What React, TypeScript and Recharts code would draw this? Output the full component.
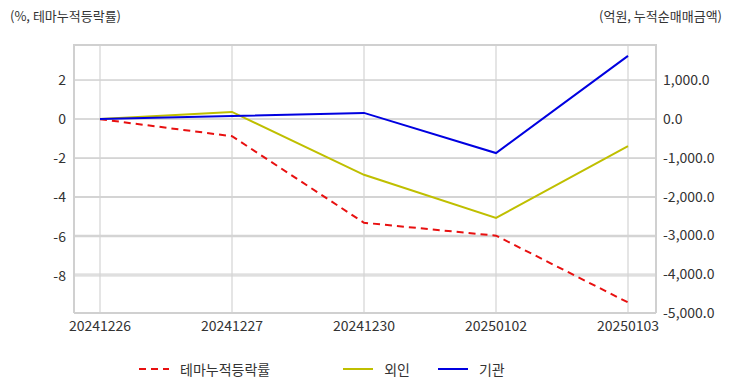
import { LineChart, Line, XAxis, YAxis, CartesianGrid } from 'recharts';

const dates = ['20241226', '20241227', '20241230', '20250102', '20250103'];
const themeRate = [0, -0.87, -5.29, -5.95, -9.36];
const foreign = [0, 180, -1440, -2550, -700];
const institution = [0, 75, 155, -880, 1625];

const leftTicks = [-8, -6, -4, -2, 0, 2];
const rightTicks = [-5000, -4000, -3000, -2000, -1000, 0, 1000];
const leftDomain = [-9.9, 3.84];

const series = [
  { key: 'theme', name: '테마누적등락률', color: '#e81010', dash: '7 5', axis: 'left' },
  { key: 'foreign', name: '외인', color: '#bfbf00', dash: undefined, axis: 'right' },
  { key: 'inst', name: '기관', color: '#0000e0', dash: undefined, axis: 'right' },
];

const data = dates.map((d, i) => ({
  date: d,
  theme: themeRate[i],
  foreign: foreign[i],
  inst: institution[i],
}));

const FONT = '"Noto Sans CJK KR", "Noto Sans", sans-serif';
const tickStyle = { fontSize: 14, fill: '#333', fontFamily: FONT };
const border = { stroke: '#d0d0d0', strokeWidth: 2 };
const fmtRight = (v: number) =>
  v.toLocaleString('en-US', { minimumFractionDigits: 1, maximumFractionDigits: 1 });

export default function App() {
  return (
    <div style={{ position: 'absolute', left: 0, top: 0, width: 732, height: 392, background: '#fff', fontFamily: FONT }}>
      <div style={{ position: 'absolute', left: 10, top: 6, fontSize: 13, color: '#333' }}>(%, 테마누적등락률)</div>
      <div style={{ position: 'absolute', right: 10, top: 6, fontSize: 13, color: '#333' }}>(억원, 누적순매매금액)</div>
      <LineChart width={732} height={392} data={data} margin={{ top: 44, right: 0, left: 0, bottom: 57 }}>
        <CartesianGrid yAxisId="left" stroke="#d4d4d4" strokeWidth={1.2} horizontalValues={leftTicks} />
        <CartesianGrid yAxisId="right" vertical={false} stroke="#d4d4d4" strokeWidth={1.2} horizontalValues={rightTicks} />
        <CartesianGrid yAxisId="left" vertical={false} stroke="#d0d0d0" strokeWidth={2} horizontalPoints={[45]} />
        <XAxis
          dataKey="date"
          padding={{ left: 26, right: 28 }}
          height={22}
          tick={tickStyle}
          tickLine={false}
          axisLine={border}
          tickMargin={2}
        />
        <YAxis
          yAxisId="left"
          width={74}
          domain={leftDomain}
          ticks={leftTicks}
          tick={tickStyle}
          tickLine={false}
          axisLine={border}
          tickMargin={2}
          allowDataOverflow
        />
        <YAxis
          yAxisId="right"
          orientation="right"
          width={76}
          domain={[-5000, 1930]}
          ticks={rightTicks}
          tickFormatter={fmtRight}
          tick={tickStyle}
          tickLine={false}
          axisLine={border}
          tickMargin={1}
          allowDataOverflow
        />
        {series.map(s => (
          <Line
            key={s.key}
            yAxisId={s.axis}
            dataKey={s.key}
            name={s.name}
            stroke={s.color}
            strokeWidth={2}
            strokeDasharray={s.dash}
            dot={false}
            type="linear"
            isAnimationActive={false}
          />
        ))}
      </LineChart>
      <div style={{ position: 'absolute', top: 359, left: 139, display: 'flex', alignItems: 'center', fontSize: 14, color: '#333' }}>
        {series.map((s, i) => (
          <div key={s.key} style={{ display: 'flex', alignItems: 'center', marginRight: i === 0 ? 73 : 28 }}>
            <svg width={30} height={4} style={{ marginRight: 11 }}>
              <line x1={0} y1={2} x2={30} y2={2} stroke={s.color} strokeWidth={2} strokeDasharray={s.dash} />
            </svg>
            <span>{s.name}</span>
          </div>
        ))}
      </div>
    </div>
  );
}
